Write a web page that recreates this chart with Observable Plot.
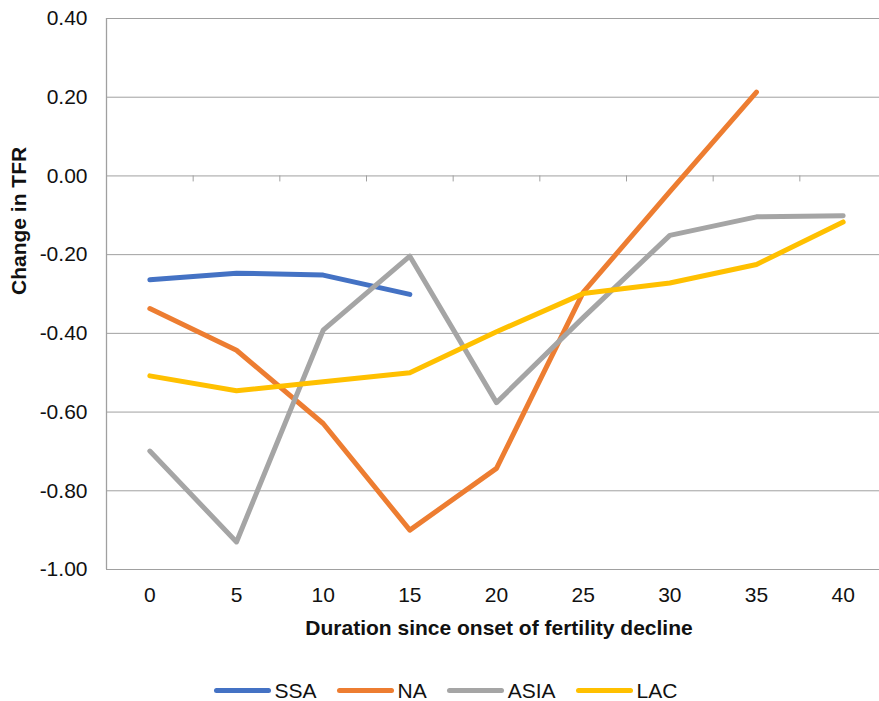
<!DOCTYPE html>
<html>
<head>
<meta charset="utf-8">
<script src="https://cdn.jsdelivr.net/npm/d3@7"></script>
<script src="https://cdn.jsdelivr.net/npm/@observablehq/plot@0.6"></script>
<style>
  html, body { margin: 0; padding: 0; background: #fff; }
  body { width: 879px; height: 701px; overflow: hidden; font-family: "Liberation Sans", Arial, sans-serif; }
  #chart svg { display: block; }
  #legend { display: flex; justify-content: center; align-items: center; height: 21px; line-height: 21px; padding-top: 21px; margin-left: 12px; font-size: 21px; color: #111; }
  .item { display: flex; align-items: center; margin: 0 10px; }
  .sw { width: 57px; height: 5px; border-radius: 3px; margin-right: 4px; }
</style>
</head>
<body>
<div id="chart"></div>
<div id="legend"></div>
<script>
const categories = [0, 5, 10, 15, 20, 25, 30, 35, 40];
const seriesNames = ["SSA", "NA", "ASIA", "LAC"];
const seriesColors = ["#4472C4", "#ED7D31", "#A5A5A5", "#FFC000"];
const ssa  = [-0.264, -0.247, -0.252, -0.301];
const na   = [-0.337, -0.443, -0.629, -0.900, -0.743, -0.296, -0.040, 0.213];
const asia = [-0.699, -0.930, -0.392, -0.204, -0.576, -0.360, -0.151, -0.104, -0.101];
const lac  = [-0.508, -0.546, -0.523, -0.500, -0.396, -0.299, -0.272, -0.225, -0.117];
const yTicks = [-1.0, -0.8, -0.6, -0.4, -0.2, 0.0, 0.2, 0.4];
const xTitle = "Duration since onset of fertility decline";
const yTitle = "Change in TFR";

const seriesValues = [ssa, na, asia, lac];
const rows = seriesNames.flatMap((name, s) =>
  seriesValues[s].map((v, i) => ({series: name, duration: categories[i], value: v})));

const step = categories[1] - categories[0];
const boundaries = d3.range(categories.length + 1).map(i => categories[0] - step / 2 + i * step);
const xDomain = [boundaries[0], boundaries[boundaries.length - 1]];
const yDomain = [yTicks[0], yTicks[yTicks.length - 1]];

const W = 879, H = 659;
const gridColor = "#a0a0a0";

const chart = Plot.plot({
  width: W,
  height: H,
  marginTop: 18,
  marginBottom: 90,
  marginLeft: 106,
  marginRight: 0,
  style: {fontSize: "21px", fontFamily: "'Liberation Sans', Arial, sans-serif", color: "#111", background: "#fff"},
  x: {type: "linear", domain: xDomain, range: [106, 886], ticks: categories, tickSize: 0, tickPadding: 18, tickFormat: d => String(d), label: null},
  y: {domain: yDomain, range: [569, 18], ticks: yTicks, tickSize: 0, tickPadding: 19, tickFormat: d => d.toFixed(2), label: null},
  color: {domain: seriesNames, range: seriesColors},
  marks: [
    Plot.ruleY(yTicks, {stroke: gridColor, strokeWidth: 1}),
    Plot.ruleX([xDomain[0]], {y1: yDomain[0], y2: yDomain[1], stroke: gridColor, strokeWidth: 1.3}),
    Plot.ruleX(boundaries.slice(1), {y1: 0, y2: 0, insetBottom: -6, stroke: gridColor, strokeWidth: 1}),
    Plot.line(rows, {x: "duration", y: "value", z: "series", stroke: "series", strokeWidth: 5, strokeLinecap: "round", strokeLinejoin: "round"}),
    Plot.text([xTitle], {text: d => d, frameAnchor: "bottom", dy: 59, dx: 6, fontWeight: "bold", fontSize: 21, lineAnchor: "middle", fill: "#111"}),
    Plot.text([yTitle], {text: d => d, frameAnchor: "left", rotate: -90, dx: -87, dy: 1, fontWeight: "bold", fontSize: 21, lineAnchor: "middle", fill: "#111"})
  ]
});
document.getElementById("chart").appendChild(chart);

const legend = document.getElementById("legend");
seriesNames.forEach((name, i) => {
  const item = document.createElement("div");
  item.className = "item";
  const sw = document.createElement("div");
  sw.className = "sw";
  sw.style.background = seriesColors[i];
  const lab = document.createElement("span");
  lab.textContent = name;
  item.appendChild(sw);
  item.appendChild(lab);
  legend.appendChild(item);
});
</script>
</body>
</html>
